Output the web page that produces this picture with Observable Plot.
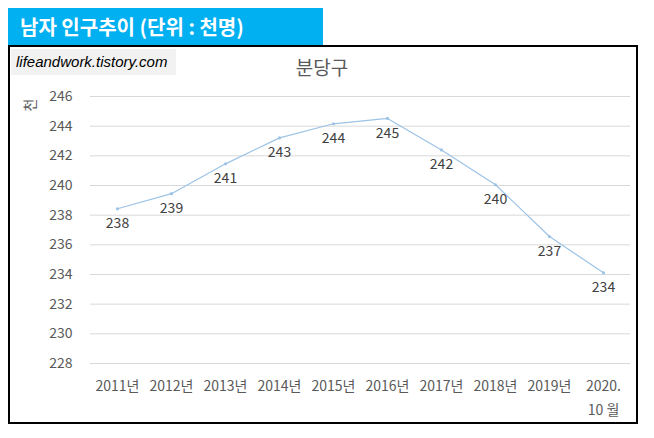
<!DOCTYPE html>
<html><head><meta charset="utf-8">
<script src="https://cdn.jsdelivr.net/npm/d3@7"></script>
<script src="https://cdn.jsdelivr.net/npm/@observablehq/plot@0.6"></script>
<style>
body{margin:0;background:#fff;font-family:"Noto Sans CJK KR",sans-serif;}
#wrap{position:relative;width:654px;height:438px;overflow:hidden;}
#hdr{position:absolute;left:8px;top:8px;width:315px;height:38px;background:#00B0F0;color:#fff;font-weight:bold;font-size:20px;line-height:38px;padding-left:12px;box-sizing:border-box;white-space:nowrap;}
#box{position:absolute;left:8px;top:45px;width:630px;height:379px;border:2px solid #000;box-sizing:border-box;}
#wm{position:absolute;left:11px;top:49px;width:165px;height:26px;background:#F2F2F2;font-family:"Liberation Sans",Arial,sans-serif;font-style:italic;font-size:15px;line-height:26px;padding-left:5px;box-sizing:border-box;color:#000;white-space:nowrap;}
#ttl{position:absolute;left:0;width:644px;text-align:center;top:54px;font-size:19px;line-height:26px;color:#595959;}
#ylab{position:absolute;left:21px;top:97px;width:16px;height:16px;font-size:14px;line-height:16px;color:#595959;transform:rotate(-90deg);text-align:center;}
#chart{position:absolute;left:0;top:0;}
</style>
</head><body>
<div id="wrap">
  <div id="hdr">남자 인구추이 (단위 : 천명)</div>
  <div id="box"></div>
  <div id="chart"></div>
  <div id="wm">lifeandwork.tistory.com</div>
  <div id="ttl">분당구</div>
  <div id="ylab">천</div>
</div>
<script>
const years = ["2011년","2012년","2013년","2014년","2015년","2016년","2017년","2018년","2019년","2020.\n10 월"];
const values = [238.43, 239.45, 241.46, 243.21, 244.16, 244.52, 242.40, 240.05, 236.56, 234.11];
const labels = [238, 239, 241, 243, 244, 245, 242, 240, 237, 234];
const yTicks = [228, 230, 232, 234, 236, 238, 240, 242, 244, 246];

const data = years.map((y, i) => ({year: y, value: values[i], label: labels[i]}));

const chart = Plot.plot({
  width: 654,
  height: 438,
  marginTop: 96,
  marginBottom: 75,
  marginLeft: 90,
  marginRight: 24,
  style: {fontFamily: "'Noto Sans CJK KR', sans-serif", fontSize: "14px", background: "transparent", overflow: "visible"},
  x: {type: "point", domain: years, padding: 0.5},
  y: {domain: [228, 246]},
  marks: [
    Plot.gridY(yTicks, {stroke: "#D9D9D9", strokeOpacity: 1}),
    Plot.axisY(yTicks, {tickSize: 0, tickPadding: 18, fill: "#595959", label: null, fontSize: 14}),
    Plot.axisX({tickSize: 0, tickPadding: 11, fill: "#595959", label: null, fontSize: 14, lineHeight: 1.7}),
    Plot.line(data, {x: "year", y: "value", stroke: "#9DC3E6", strokeWidth: 1.2}),
    Plot.dot(data, {x: "year", y: "value", r: 1.6, fill: "#9DC3E6"}),
    Plot.text(data, {x: "year", y: "value", text: "label", dy: 15, fill: "#404040", fontSize: 14})
  ]
});
document.getElementById("chart").appendChild(chart);
</script>
</body></html>
